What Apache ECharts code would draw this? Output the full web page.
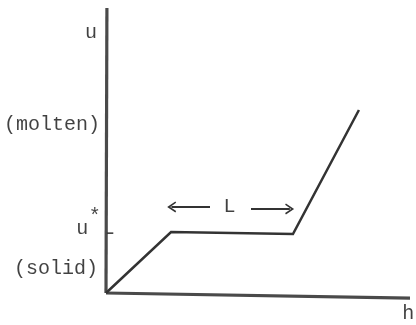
<!DOCTYPE html>
<html>
<head>
<meta charset="utf-8">
<script src="https://cdn.jsdelivr.net/npm/echarts@6/dist/echarts.min.js"></script>
<style>
  html, body { margin: 0; padding: 0; background: #fff; }
  #chart { width: 416px; height: 325px; }
</style>
</head>
<body>
<div id="chart"></div>
<script>
// h (enthalpy) and u (temperature) of the melting curve, in axis units 0..100
const curveH = [0, 21.4, 61.5, 83.2];
const curveU = [0, 21.4, 20.7, 64.2];

// hand drawn axes (the h axis sags a little in the scan)
const hAxisLine = [[0, 0], [100, -1.8]];
const uAxisLine = [[0, 0], [0.3, 100]];
const uStarTick = [[0.3, 21], [2.4, 21]];

// latent heat arrows
const arrowLeft = [[34.2, 30.2], [21.6, 30.2]];
const arrowRight = [[47.7, 29.5], [60.4, 29.5]];

// text labels and where they sit
const labelTexts = ["u", "(molten)", "u", "*", "(solid)", "h", "L"];
const labelH = [-3, -2, -5.8, -3.7, -2.6, 99.4, 40.6];
const labelU = [91.2, 58.9, 22.5, 26.6, 8.4, -7.4, 30.2];
const labelAlign = ["right", "right", "right", "center", "right", "center", "center"];

const chart = echarts.init(document.getElementById("chart"));

const font = "'Liberation Mono', 'DejaVu Sans Mono', monospace";
const ink = "#333";
const chevron = "path://M5,0 L10,8.2 L8.7,9 L5,3 L1.3,9 L0,8.2 Z";

const toPairs = (xs, ys) => xs.map((x, i) => [x, ys[i]]);

const arrowSeries = (pts) => ({
  type: "line",
  data: pts,
  symbol: "none",
  clip: false,
  silent: true,
  lineStyle: { color: ink, width: 2 },
  markLine: {
    silent: true,
    symbol: ["none", chevron],
    symbolSize: [11, 9],
    label: { show: false },
    lineStyle: { color: ink, width: 2, type: "solid" },
    data: [[{ coord: pts[0] }, { coord: pts[1] }]],
  },
});

const option = {
  animation: false,
  backgroundColor: "#fff",
  grid: { left: 106, right: 6, top: 8, bottom: 32 },
  xAxis: {
    type: "value",
    min: 0,
    max: 100,
    axisLine: { show: false },
    axisTick: { show: false },
    axisLabel: { show: false },
    splitLine: { show: false },
  },
  yAxis: {
    type: "value",
    min: 0,
    max: 100,
    axisLine: { show: false },
    axisTick: { show: false },
    axisLabel: { show: false },
    splitLine: { show: false },
  },
  series: [
    {
      type: "line",
      data: hAxisLine,
      symbol: "none",
      clip: false,
      silent: true,
      lineStyle: { color: "#4a4a4a", width: 3.2 },
    },
    {
      type: "line",
      data: uAxisLine,
      symbol: "none",
      clip: false,
      silent: true,
      lineStyle: { color: "#4a4a4a", width: 3.2 },
    },
    {
      type: "line",
      data: uStarTick,
      symbol: "none",
      clip: false,
      silent: true,
      lineStyle: { color: ink, width: 1.5 },
    },
    {
      type: "line",
      data: toPairs(curveH, curveU),
      symbol: "none",
      clip: false,
      silent: true,
      lineStyle: { color: ink, width: 2.5, join: "miter" },
    },
    arrowSeries(arrowLeft),
    arrowSeries(arrowRight),
    {
      type: "scatter",
      symbolSize: 0,
      clip: false,
      silent: true,
      data: labelTexts.map((t, i) => ({
        value: [labelH[i], labelU[i]],
        label: {
          show: true,
          formatter: t,
          position: labelAlign[i] === "right" ? "left" : "inside",
          distance: 0,
          color: "#111",
          fontFamily: font,
          fontSize: 20,
        },
      })),
    },
  ],
};

chart.setOption(option);
</script>
</body>
</html>
